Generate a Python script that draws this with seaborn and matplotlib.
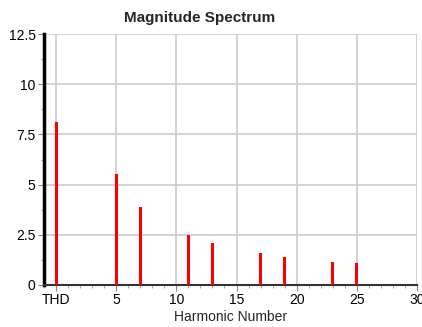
import matplotlib
matplotlib.use("Agg")
import matplotlib.pyplot as plt
from matplotlib.ticker import MultipleLocator, FixedLocator
import seaborn as sns
import pandas as pd

harmonics = [0, 5, 7, 11, 13, 17, 19, 23, 25]
magnitudes = [8.1, 5.55, 3.88, 2.5, 2.08, 1.6, 1.4, 1.15, 1.1]
x_ticks = [0, 5, 10, 15, 20, 25, 30]
x_tick_labels = ["THD", "5", "10", "15", "20", "25", "30"]
y_ticks = [0, 2.5, 5, 7.5, 10, 12.5]
y_tick_labels = ["0", "2.5", "5", "7.5", "10", "12.5"]

sns.set_theme(style="white")
plt.rcParams["font.family"] = ["Liberation Sans", "DejaVu Sans"]

df = pd.DataFrame({"h": harmonics, "m": magnitudes})

fig = plt.figure(figsize=(4.22, 3.27), dpi=100)
ax = fig.add_axes([44 / 422, 1 - 285 / 327, (417 - 44) / 422, (285 - 34) / 327])

sns.barplot(data=df, x="h", y="m", native_scale=True, width=0.125,
            color="#ff0000", saturation=1, linewidth=0, ax=ax, zorder=3)

ax.set_xlim(-1, 30)
ax.set_ylim(0, 12.5)
ax.xaxis.set_major_locator(FixedLocator(x_ticks))
ax.set_xticklabels(x_tick_labels)
ax.xaxis.set_minor_locator(MultipleLocator(1))
ax.yaxis.set_major_locator(FixedLocator(y_ticks))
ax.set_yticklabels(y_tick_labels)
ax.yaxis.set_minor_locator(MultipleLocator(1.25))

ax.grid(True, which="major", color="#cccccc", linewidth=1.2, zorder=0)
ax.set_axisbelow(True)

for s in ["top", "right"]:
    ax.spines[s].set_visible(False)
ax.spines["left"].set_color("black")
ax.spines["left"].set_linewidth(2.5)
ax.spines["bottom"].set_color("#333333")
ax.spines["bottom"].set_linewidth(1.5)

ax.tick_params(axis="both", which="major", direction="out", length=4, width=0.8,
               color="#888888", labelsize=10, labelcolor="black", bottom=True, left=True, pad=2)
ax.tick_params(axis="both", which="minor", direction="out", length=2, width=0.8,
               color="#aaaaaa", bottom=True, left=True)

ax.set_xlabel("Harmonic Number", fontsize=10, labelpad=2)
ax.set_ylabel("")
fig.text(200 / 422, 1 - 18 / 327, "Magnitude Spectrum", fontsize=11,
         fontweight="bold", ha="center", va="center")

fig.savefig("out.png", dpi=100)
